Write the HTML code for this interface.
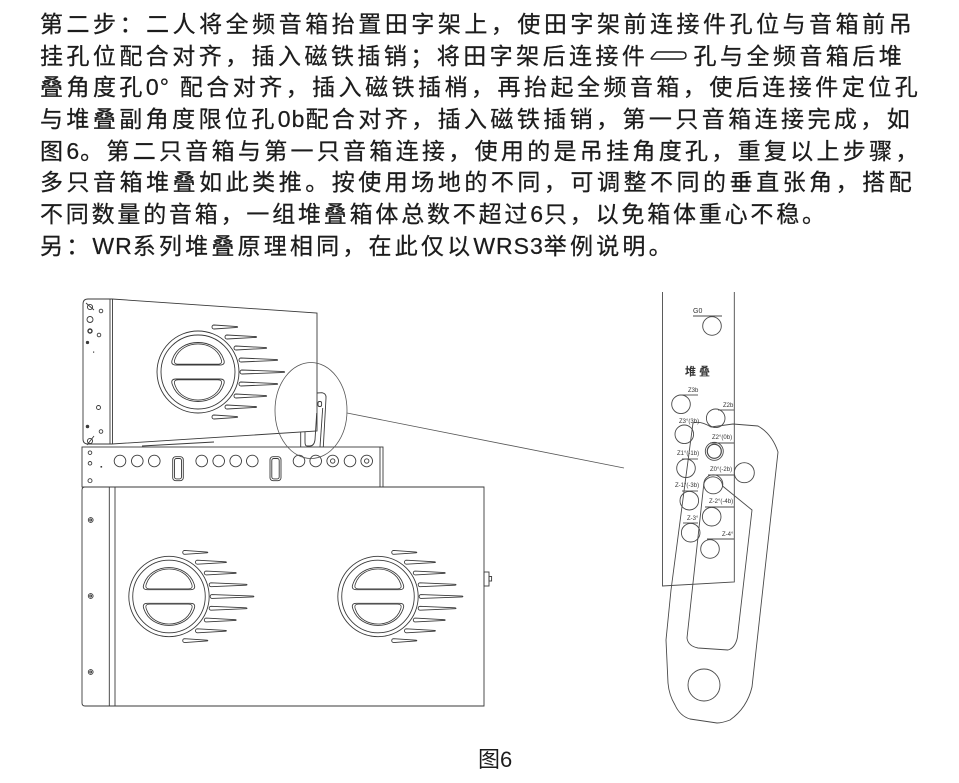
<!DOCTYPE html>
<html>
<head>
<meta charset="utf-8">
<style>
  html,body{margin:0;padding:0;background:#fff;}
  body{width:959px;height:783px;position:relative;overflow:hidden;}
  .t{position:absolute;left:40px;white-space:nowrap;font-family:"Liberation Sans","Noto Sans CJK SC",sans-serif;font-size:23px;line-height:30px;height:30px;color:#1c1c1c;letter-spacing:3.3px;text-align:justify;text-align-last:justify;-webkit-text-stroke:0.25px #1c1c1c;}
  .n{text-align:left;text-align-last:left;}
  .l{letter-spacing:1px;}
  .cap{position:absolute;left:478px;top:745px;font-family:"Liberation Sans","Noto Sans CJK SC",sans-serif;font-size:22px;line-height:30px;color:#1c1c1c;white-space:nowrap;}
  svg.fig{position:absolute;left:0;top:0;}
</style>
</head>
<body>
<div class="t" style="top:9px;width:875px;">第二步：二人将全频音箱抬置田字架上，使田字架前连接件孔位与音箱前吊</div>
<div class="t" style="top:41px;width:865px;">挂孔位配合对齐，插入磁铁插销；将田字架后连接件<svg width="38" height="12" viewBox="0 0 38 12" style="vertical-align:2px;margin:0 5px 0 2px;"><path d="M7,2 L32,2 Q36,2 36,5.5 Q36,9 32,9 L2,9 Q0.5,9 1.5,7.8 L6,2.6 Q6.5,2 7,2 Z" fill="none" stroke="#1c1c1c" stroke-width="1.4"/></svg>孔与全频音箱后堆</div>
<div class="t" style="top:72px;width:881px;">叠角度孔<span class="l">0°</span> 配合对齐，插入磁铁插梢，再抬起全频音箱，使后连接件定位孔</div>
<div class="t" style="top:104px;width:873px;">与堆叠副角度限位孔<span class="l">0b</span>配合对齐，插入磁铁插销，第一只音箱连接完成，如</div>
<div class="t" style="top:136px;width:880px;">图<span class="l">6</span>。第二只音箱与第一只音箱连接，使用的是吊挂角度孔，重复以上步骤，</div>
<div class="t" style="top:167px;width:875px;">多只音箱堆叠如此类推。按使用场地的不同，可调整不同的垂直张角，搭配</div>
<div class="t n" style="top:199px;letter-spacing:2.8px;">不同数量的音箱，一组堆叠箱体总数不超过<span class="l">6</span>只，以免箱体重心不稳。</div>
<div class="t n" style="top:231px;letter-spacing:3.2px;">另：<span class="l">WR</span>系列堆叠原理相同，在此仅以<span class="l">WRS3</span>举例说明。</div>

<div class="cap">图6</div>

<svg class="fig" width="959" height="783" viewBox="0 0 959 783" xmlns="http://www.w3.org/2000/svg">
<defs>
  <g id="dshape">
    <path d="M-22,-7 L22,-7 Q28,-7 25.5,-13 C18,-35 -18,-35 -25.5,-13 Q-28,-7 -22,-7 Z"/>
    <path transform="translate(0,-1.5) scale(0.9)" d="M-22,-7 L22,-7 Q28,-7 25.5,-13 C18,-35 -18,-35 -25.5,-13 Q-28,-7 -22,-7 Z"/>
  </g>
  <g id="woof" fill="none">
    <circle r="41"/>
    <circle r="37"/>
    <use href="#dshape"/>
    <use href="#dshape" transform="scale(1,-1)"/>
    <path d="M16,-47 L39,-45.4 Q40.3,-45 39,-44.6 L16,-43 A2,2 0 0 1 16,-47 Z"/>
    <path d="M29,-37 L58,-35.4 Q59.3,-35 58,-34.6 L29,-33 A2,2 0 0 1 29,-37 Z"/>
    <path d="M38,-26 L68,-24.4 Q69.3,-24 68,-23.6 L38,-22 A2,2 0 0 1 38,-26 Z"/>
    <path d="M43,-14 L79,-12.4 Q80.3,-12 79,-11.6 L43,-10 A2,2 0 0 1 43,-14 Z"/>
    <path d="M44,-2 L86,-0.4 Q87.3,0 86,0.4 L44,2 A2,2 0 0 1 44,-2 Z"/>
    <path d="M43,10 L79,11.6 Q80.3,12 79,12.4 L43,14 A2,2 0 0 1 43,10 Z"/>
    <path d="M38,22 L68,23.6 Q69.3,24 68,24.4 L38,26 A2,2 0 0 1 38,22 Z"/>
    <path d="M29,33 L58,34.6 Q59.3,35 58,35.4 L29,37 A2,2 0 0 1 29,33 Z"/>
    <path d="M16,43 L39,44.6 Q40.3,45 39,45.4 L16,47 A2,2 0 0 1 16,43 Z"/>
  </g>
</defs>

<g fill="none" stroke="#3a3a3a" stroke-width="0.9">
  <path d="M112,299 L317,313 L317,431 L112,444"/>
  <path d="M112,299 L88,299 Q83,299 83,304 L83,439 Q83,444 88,444 L112,444"/>
  <line x1="110" y1="299" x2="110" y2="444"/>
  <line x1="112.5" y1="299" x2="112.5" y2="444"/>
  <path d="M142,446 L214,442"/>
  <use href="#woof" x="198" y="372"/>
  <circle cx="90" cy="307" r="2.6"/><line x1="86" y1="303" x2="94" y2="310"/>
  <circle cx="101" cy="311" r="1.8"/>
  <circle cx="90" cy="319.5" r="3"/>
  <circle cx="90" cy="331" r="2" stroke-width="1.4"/>
  <circle cx="99" cy="335" r="1.8"/>
  <circle cx="87.5" cy="342.5" r="1.2" fill="#3a3a3a"/>
  <rect x="93" y="351.5" width="1.2" height="1.2" fill="#3a3a3a" stroke="none"/>
  <circle cx="98.5" cy="407.5" r="2"/>
  <circle cx="87.5" cy="426.5" r="1.3" fill="#3a3a3a"/>
  <circle cx="101" cy="431.5" r="1.8"/>
  <circle cx="90" cy="441" r="2.6"/><line x1="87" y1="445" x2="94" y2="436"/>

  <path d="M317,393 L322,392.7 Q326.5,393.5 326,398 L323.3,447"/>
  <path d="M322.7,408 L320,447"/>
  <rect x="318" y="401.5" width="3.6" height="5" rx="1.5"/>
  <path d="M316.7,413 L315,440 Q314,446 310,446 L307,446 Q305,446 305,442 L305,432"/>
  <line x1="300.7" y1="432" x2="300.7" y2="447"/>

  <rect x="82" y="447" width="301" height="40"/>
  <line x1="380" y1="447" x2="380" y2="487"/>
  <circle cx="90" cy="452.7" r="1.8"/>
  <circle cx="90" cy="463.3" r="1.8"/>
  <rect x="100.5" y="466" width="1.6" height="1.6" fill="#3a3a3a" stroke="none"/>
  <circle cx="90" cy="480.7" r="2"/>
  <g>
    <circle cx="120" cy="461" r="5.8"/>
    <circle cx="137.3" cy="461" r="5.8"/>
    <circle cx="154.3" cy="461" r="5.8"/>
    <circle cx="201.7" cy="461" r="5.8"/>
    <circle cx="218.7" cy="461" r="5.8"/>
    <circle cx="235.7" cy="461" r="5.8"/>
    <circle cx="252.3" cy="461" r="5.8"/>
    <circle cx="299" cy="461" r="5.8"/>
    <circle cx="315.7" cy="461" r="5.8"/>
    <circle cx="332.7" cy="461" r="5.8"/>
    <circle cx="332.7" cy="461" r="2.2"/>
    <circle cx="350" cy="461" r="5.8"/>
    <circle cx="366.7" cy="461" r="5.8"/>
    <circle cx="366.7" cy="461" r="2.2"/>
    <rect x="172.7" y="456.7" width="10.6" height="24" rx="3"/>
    <rect x="174.5" y="458.5" width="7" height="20.4" rx="2"/>
    <rect x="270" y="456.7" width="11" height="24" rx="3"/>
    <rect x="271.8" y="458.5" width="7.4" height="20.4" rx="2"/>
  </g>

  <path d="M85,487 L484,487 L484,706 L85,706 Q82,706 82,703 L82,490 Q82,487 85,487 Z"/>
  <line x1="109.3" y1="487" x2="109.3" y2="706"/>
  <line x1="115" y1="487" x2="115" y2="706"/>
  <circle cx="90.7" cy="520" r="2.4"/><circle cx="90.7" cy="520" r="1"/>
  <circle cx="90.7" cy="596" r="2.4"/><circle cx="90.7" cy="596" r="1"/>
  <circle cx="90.7" cy="672" r="2.4"/><circle cx="90.7" cy="672" r="1"/>
  <rect x="484" y="572" width="5" height="14"/>
  <rect x="489" y="576.5" width="2.6" height="4.5"/>
  <use href="#woof" x="169" y="596.5" transform="translate(169,596.5) scale(0.98) translate(-169,-596.5)"/>
  <use href="#woof" x="378" y="596.5" transform="translate(378,596.5) scale(0.98) translate(-378,-596.5)"/>
</g>

<g fill="none" stroke="#555" stroke-width="0.8">
  <ellipse cx="311" cy="410.5" rx="36" ry="48"/>
  <line x1="347" y1="413" x2="624" y2="468"/>
</g>

<g fill="none" stroke="#4a4a4a" stroke-width="0.9">
  <path d="M662.5,292 L662.5,586 L734.3,582 L734.3,292"/>
  <line x1="693" y1="316" x2="722" y2="316"/>
  <line x1="682" y1="395" x2="698" y2="395"/>
  <line x1="718" y1="410" x2="734" y2="410"/>
  <line x1="710" y1="443" x2="734" y2="443"/>
  <line x1="682" y1="459" x2="698" y2="459"/>
  <line x1="708" y1="475" x2="734" y2="475"/>
  <line x1="682" y1="491" x2="698" y2="491"/>
  <line x1="705" y1="507" x2="734" y2="507"/>
  <line x1="683" y1="523" x2="698" y2="523"/>
  <line x1="707" y1="539" x2="734" y2="539"/>
  <circle cx="712" cy="326" r="9.3"/>
  <circle cx="681" cy="404.3" r="9.3"/>
  <circle cx="715.7" cy="418.3" r="9.3"/>
  <circle cx="684.3" cy="434.3" r="9.3"/>
  <circle cx="714.3" cy="451.3" r="9"/>
  <circle cx="714.3" cy="451.3" r="7" stroke-width="1.2"/>
  <circle cx="686" cy="468.3" r="9.3"/>
  <circle cx="713.3" cy="484.3" r="9.5"/>
  <circle cx="689.3" cy="500.7" r="9.3"/>
  <circle cx="711.7" cy="516.7" r="9.3"/>
  <circle cx="690.7" cy="532.7" r="9.3"/>
  <circle cx="710" cy="549" r="9.3"/>
  <path d="M693,423 C699,421 706,424 711,427 L733,424 L758,426 Q772,434 778,452 L752,687 Q747,708 730,720 Q722,723 717,723 L690,719 Q680,716 675,705 Q669,695 668,683 L666,640 L671,590 Z"/>
  <path d="M687,638 L703.8,484 A9.5,9.5 0 0 1 722.5,486 L752,510 L737.3,638 Q735,648 728,650 L698,648 Q688,646 687,638 Z"/>
  <circle cx="704" cy="685" r="16"/>
  <circle cx="744.3" cy="472.7" r="10"/>
</g>
<g font-family="'Liberation Sans','Noto Sans CJK SC',sans-serif" fill="#333">
  <text x="693" y="313" font-size="7">G0</text>
  <text x="685" y="375" font-size="11" font-weight="bold" letter-spacing="3" font-family="'Noto Sans CJK SC',sans-serif">堆叠</text>
  <g font-size="6">
    <text x="688" y="392">Z3b</text>
    <text x="723" y="407">Z2b</text>
    <text x="679" y="423">Z3°(3b)</text>
    <text x="712" y="439">Z2°(0b)</text>
    <text x="677" y="455">Z1°(-1b)</text>
    <text x="710" y="471">Z0°(-2b)</text>
    <text x="675" y="487">Z-1°(-3b)</text>
    <text x="709" y="503">Z-2°(-4b)</text>
    <text x="687" y="520">Z-3°</text>
    <text x="722" y="536">Z-4°</text>
  </g>
</g>
</svg>
</body>
</html>
